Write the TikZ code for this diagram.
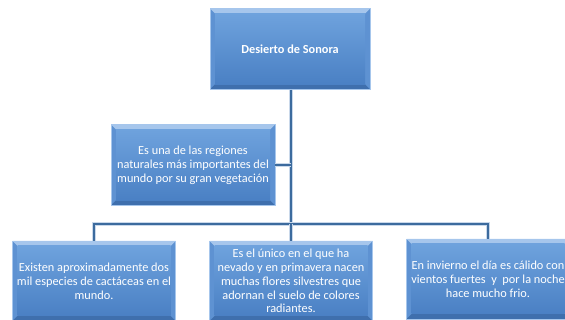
\documentclass[tikz,border=0pt]{standalone}
\usepackage{fontspec}
\setmainfont{Carlito}
\definecolor{boxtop}{HTML}{6EA2DD}
\definecolor{boxbot}{HTML}{4A80C4}
\definecolor{boxlight}{HTML}{A6C6EC}
\definecolor{boxdark}{HTML}{3F6FAD}
\definecolor{boxmid}{HTML}{5E92D2}
\definecolor{linkblue}{HTML}{3C6B9E}
\definecolor{linkhalo}{HTML}{C9D8EA}

\begin{document}
\begin{tikzpicture}[x=1pt, y=-1pt]

    \tikzset{bevelbox/.style={%
      rectangle,%
      minimum width=163pt,%
      minimum height=80pt,%
      inner sep=0pt,%
      text=white,%
      align=center,%
      font=\fontsize{12.3}{13.8}\selectfont,%
      fill=boxmid,%
      draw=boxlight,%
      line width=0.5pt,%
      path picture={%
        \coordinate (pnw) at (path picture bounding box.north west);
        \coordinate (pne) at (path picture bounding box.north east);
        \coordinate (psw) at (path picture bounding box.south west);
        \coordinate (pse) at (path picture bounding box.south east);
        \fill[boxlight] (pnw) -- (pne) -- ([shift={(-5pt,-5pt)}]pne) -- ([shift={(5pt,-5pt)}]pnw) -- cycle;
        \fill[boxdark] (psw) -- (pse) -- ([shift={(-5pt,5pt)}]pse) -- ([shift={(5pt,5pt)}]psw) -- cycle;
        \shade[top color=boxtop, bottom color=boxbot] ([shift={(5pt,-5pt)}]pnw) rectangle ([shift={(-5pt,5pt)}]pse);
      }}%
    };

    \tikzset{link/.style={linkblue, line width=1.6pt, preaction={draw=linkhalo, line width=3.2pt}}};

    \useasboundingbox (0,0) rectangle (565,320);

    %%%%%%%%%%%%%%%
    %   boxes     %
    %%%%%%%%%%%%%%%
    \node[bevelbox, minimum width=160pt, minimum height=81pt, font=\bfseries\fontsize{12.3}{14}\selectfont] (desierto) at (290,49) {Desierto de Sonora};
    \node[bevelbox, minimum width=164pt, minimum height=81pt] (regiones) at (193,165) {Es una de las regiones\\naturales más importantes del\\mundo por su gran vegetación};
    \node[bevelbox] (cactaceas) at (94,281) {Existen aproximadamente dos\\mil especies de cactáceas en el\\mundo.};
    \node[bevelbox] (unico) at (291,281) {Es el único en el que ha\\nevado y en primavera nacen\\muchas flores silvestres que\\adornan el suelo de colores\\radiantes.};
    \node[bevelbox] (invierno) at (488,279) {En invierno el día es cálido con\\vientos fuertes \ y \ por la noche\\hace mucho frio.};

    \coordinate (bus) at (291,224);

    %%%%%%%%%%%%%%%
    %  connectors %
    %%%%%%%%%%%%%%%
    \draw[link] (desierto.south -| bus) -- (bus);
    \draw[link] (regiones.east) -- (regiones.east -| bus);
    \draw[link] (cactaceas.north) |- (bus) -| (invierno.north);
    \draw[link] (bus) -- (unico.north);

\end{tikzpicture}
\end{document}
